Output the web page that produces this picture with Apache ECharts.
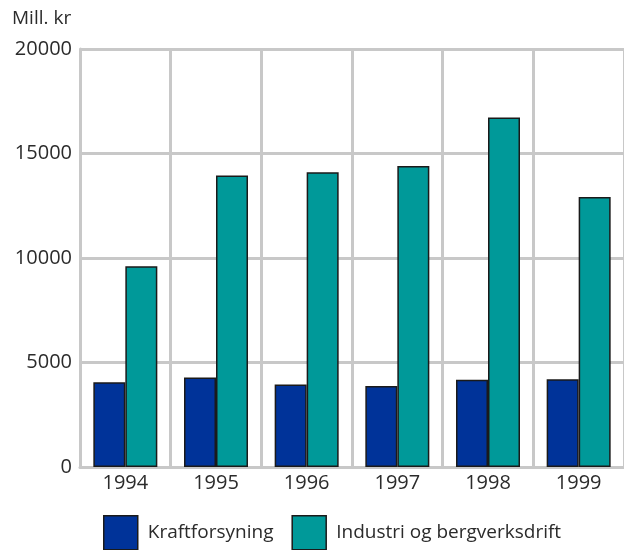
<!DOCTYPE html>
<html>
<head>
<meta charset="utf-8">
<script src="https://cdn.jsdelivr.net/npm/echarts@6/dist/echarts.min.js"></script>
<style>
  html, body { margin: 0; padding: 0; background: #fff; }
  #chart { width: 624px; height: 550px; }
</style>
</head>
<body>
<div id="chart"></div>
<script>
// data
const years = ['1994', '1995', '1996', '1997', '1998', '1999']
const kraftforsyning = [4050, 4280, 3950, 3870, 4180, 4200]
const industri = [9600, 13950, 14100, 14400, 16720, 12920]
const yTicks = { min: 0, max: 20000, interval: 5000 }

const chart = echarts.init(document.getElementById('chart'))

const font = '"Open Sans", "Noto Sans", sans-serif'
const textColor = '#2b2b2b'
const gridColor = '#c8c8c8'

chart.setOption({
  animation: false,
  textStyle: { fontFamily: font },
  title: {
    text: 'Mill. kr',
    left: 7,
    top: 4,
    textStyle: { fontSize: 19, fontWeight: 'normal', color: textColor, fontFamily: font },
  },
  legend: {
    left: 103,
    top: 515,
    padding: 0,
    itemWidth: 34,
    itemHeight: 34,
    itemGap: 18,
    icon: 'rect',
    textStyle: { fontSize: 19, color: textColor, padding: [0, 0, 0, 5], fontFamily: font },
    itemStyle: { borderColor: '#1a1a1a', borderWidth: 1.5 },
  },
  grid: {
    left: 80,
    top: 49,
    width: 547,
    height: 418,
  },
  xAxis: {
    type: 'category',
    data: years,
    axisTick: { show: false },
    axisLine: { lineStyle: { color: gridColor, width: 3 } },
    axisLabel: { fontSize: 20, color: textColor, margin: 6, fontFamily: font },
    splitLine: { show: true, lineStyle: { color: gridColor, width: 3 } },
  },
  yAxis: {
    type: 'value',
    min: yTicks.min,
    max: yTicks.max,
    interval: yTicks.interval,
    axisTick: { show: false },
    axisLine: { show: true, lineStyle: { color: gridColor, width: 3 } },
    axisLabel: {
      fontSize: 20,
      color: textColor,
      margin: 8,
      fontFamily: font,
      formatter: (v) => String(v),
    },
    splitLine: { lineStyle: { color: gridColor, width: 3 } },
  },
  series: [
    {
      name: 'Kraftforsyning',
      type: 'bar',
      data: kraftforsyning,
      barWidth: 32,
      barGap: '0%',
      itemStyle: { color: '#003399', borderColor: '#1a1a1a', borderWidth: 1.5 },
    },
    {
      name: 'Industri og bergverksdrift',
      type: 'bar',
      data: industri,
      barWidth: 32,
      barGap: '0%',
      itemStyle: { color: '#009999', borderColor: '#1a1a1a', borderWidth: 1.5 },
    },
  ],
})
</script>
</body>
</html>
